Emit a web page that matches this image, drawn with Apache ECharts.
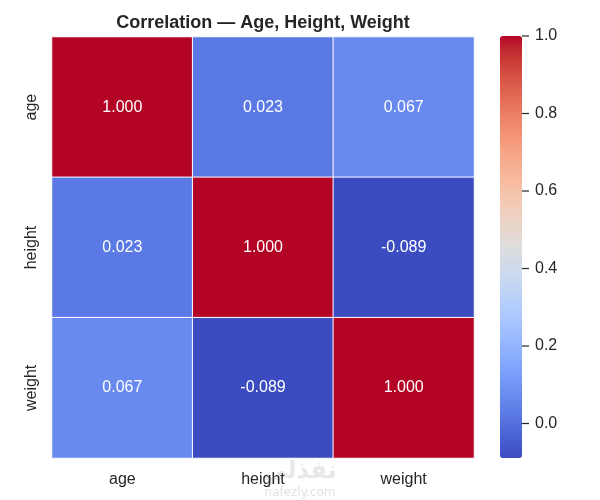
<!DOCTYPE html>
<html>
<head>
<meta charset="utf-8">
<style>
  html, body { margin: 0; padding: 0; background: #fff; }
  #main { width: 600px; height: 500px; }
</style>
<script src="https://cdn.jsdelivr.net/npm/echarts@6/dist/echarts.min.js"></script>
</head>
<body>
<div id="main"></div>
<script>
// 变量名
var names = ['age', 'height', 'weight'];
// 相关系数矩阵 (行 = y, 列 = x)
var corrAge = [1.000, 0.023, 0.067];
var corrHeight = [0.023, 1.000, -0.089];
var corrWeight = [0.067, -0.089, 1.000];
// 色条刻度
var barTicks = [0.0, 0.2, 0.4, 0.6, 0.8, 1.0];

var rows = [corrAge, corrHeight, corrWeight];
var data = [];
rows.forEach(function (row, y) {
    row.forEach(function (v, x) {
        data.push([x, y, v]);
    });
});
var vmin = Math.min.apply(null, data.map(function (d) { return d[2]; }));
var vmax = 1.0;

// coolwarm
var coolwarm = [
    '#3b4cc0', '#445acc', '#4d68d7', '#5775e1', '#6282ea', '#6c8ef1', '#7799f7', '#82a5fb',
    '#8db0fe', '#98b9ff', '#a3c2ff', '#aec9fd', '#b8d0f9', '#c2d5f4', '#ccd9ee', '#d5dbe6',
    '#dddddd', '#e5d8d1', '#ecd3c5', '#f1ccb8', '#f5c4ad', '#f7bba0', '#f7b194', '#f7a687',
    '#f49a7b', '#f18d6f', '#ec7f63', '#e57058', '#de604d', '#d55042', '#cb3e38', '#c0282f',
    '#b40426'
];

var textColor = '#262626';
var font = 'Liberation Sans, Arial, sans-serif';

var chart = echarts.init(document.getElementById('main'));
chart.setOption({
    backgroundColor: '#fff',
    title: {
        text: 'Correlation — Age, Height, Weight',
        left: 258, top: 9, textAlign: 'center',
        textStyle: { fontFamily: font, fontSize: 18, fontWeight: 'bold', color: textColor }
    },
    grid: [
        { left: 52, top: 37, width: 422, height: 421 },
        { left: 500, top: 36, width: 22, height: 422 }
    ],
    xAxis: [{
        type: 'category', data: names, gridIndex: 0,
        axisLine: { show: false }, axisTick: { show: false },
        axisLabel: { fontFamily: font, fontSize: 16, color: textColor, margin: 14 },
        splitArea: { show: false }
    }, {
        type: 'value', gridIndex: 1, show: false, min: 0, max: 1
    }],
    yAxis: [{
        type: 'category', data: names, gridIndex: 0, inverse: true,
        axisLine: { show: false }, axisTick: { show: false },
        axisLabel: { fontFamily: font, fontSize: 16, color: textColor, rotate: 90, margin: 12 }
    }, {
        type: 'value', gridIndex: 1, position: 'right', min: vmin, max: vmax,
        axisLine: { show: false },
        splitLine: { show: false },
        axisTick: { show: false },
        axisLabel: {
            customValues: barTicks, fontFamily: font, fontSize: 16, color: textColor, margin: 13,
            formatter: function (v) { return v.toFixed(1); }
        }
    }],
    visualMap: {
        type: 'continuous', min: vmin, max: vmax, seriesIndex: 0,
        calculable: false, show: true, orient: 'vertical',
        left: 500, top: 36, itemWidth: 22, itemHeight: 422, padding: 0,
        text: null, showLabel: false,
        inRange: { color: coolwarm }
    },
    graphic: [{
        type: 'text', left: 'center', top: 460, z: -1,
        style: { text: 'نفذلي', fontSize: 24, fontWeight: 'bold', fill: '#e8e8e8', fontFamily: 'DejaVu Sans' }
    }, {
        type: 'text', left: 'center', top: 487, z: -1,
        style: { text: 'nafezly.com', fontSize: 12, fill: '#e2e2e2', fontFamily: 'DejaVu Sans' }
    }],
    series: [{
        type: 'heatmap', xAxisIndex: 0, yAxisIndex: 0,
        data: data,
        itemStyle: { borderColor: '#fff', borderWidth: 1 },
        label: {
            show: true, color: '#fff', fontFamily: font, fontSize: 16,
            formatter: function (p) { return p.value[2].toFixed(3); }
        },
        emphasis: { disabled: true }
    }, {
        // 色条刻度线
        type: 'custom', xAxisIndex: 1, yAxisIndex: 1, silent: true, clip: false,
        data: barTicks.map(function (v) { return [1, v]; }),
        renderItem: function (params, api) {
            var p = api.coord([api.value(0), api.value(1)]);
            return {
                type: 'line',
                shape: { x1: p[0], y1: p[1], x2: p[0] + 7, y2: p[1] },
                style: { stroke: textColor, lineWidth: 1.2 }
            };
        }
    }]
});
</script>
</body>
</html>
